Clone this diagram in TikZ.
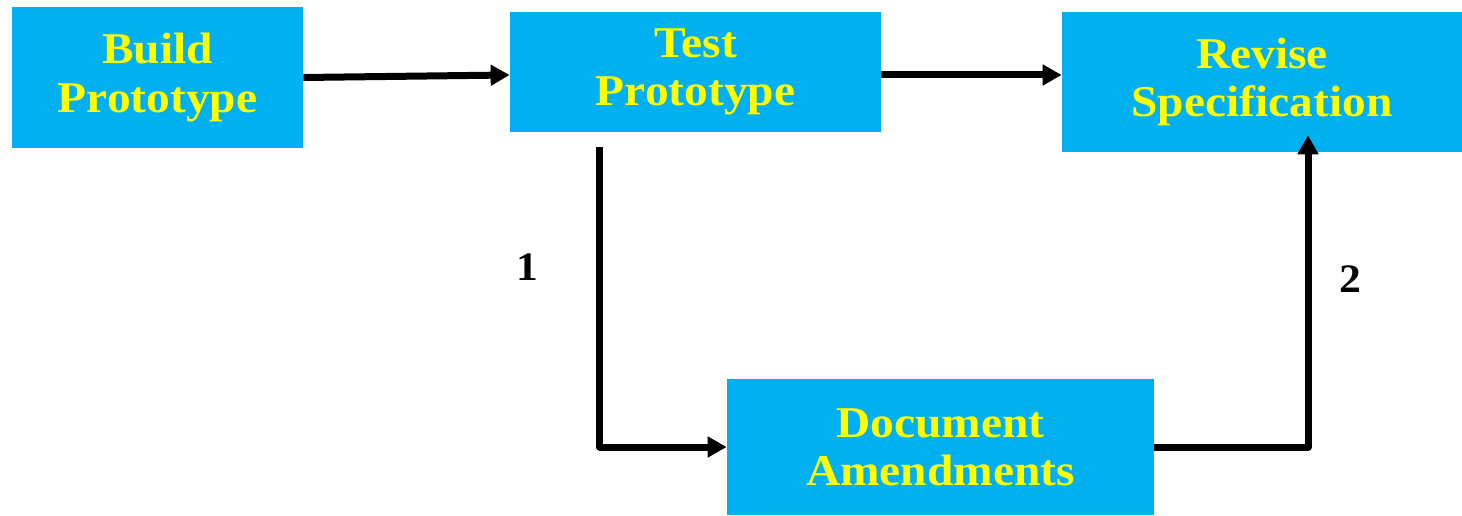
\documentclass[tikz,border=0pt]{standalone}
\usepackage{fontspec}
\setmainfont[FakeStretch=1.08]{Liberation Serif}
\usetikzlibrary{arrows.meta,positioning,calc}
\definecolor{stageblue}{RGB}{0,176,240}
\definecolor{stageyellow}{RGB}{255,255,0}
\tikzset{
  stagebox/.style={fill=stageblue, text=stageyellow, align=center, inner sep=0pt, font=\bfseries\fontsize{25}{27.5}\selectfont},
  stagearrow/.style={-{Triangle[length=0.38cm, width=0.4cm]}, line width=0.14cm, line join=round, draw=black},
  steplabel/.style={font=\bfseries\fontsize{23}{25}\selectfont},
}

\begin{document}
\begin{tikzpicture}
    \useasboundingbox (0,0) rectangle (29.24,10.3);
    \node[stagebox, minimum width=5.82cm, minimum height=2.82cm] (build) at (3.15,8.75) {Build\\Prototype};
    \node[stagebox, minimum width=7.42cm, minimum height=2.4cm] (test) at (13.91,8.86) {Test\\Prototype};
    \node[stagebox, minimum width=8.0cm, minimum height=2.8cm] (revise) at (25.24,8.66) {Revise\\Specification};
    \node[stagebox, minimum width=8.54cm, minimum height=2.72cm] (amend) at (18.81,1.36) {Document\\Amendments};
    % loose ends of the two bent arrows
    \coordinate[xshift=1.8cm, yshift=-0.3cm] (testout) at (test.south west);
    \coordinate[xshift=0.92cm, yshift=0.34cm] (revisein) at (revise.south);
    \draw[stagearrow] (build.east) -- ([yshift=-0.06cm]test.west);
    \draw[stagearrow] ([yshift=-0.06cm]test.east) -- ([yshift=-0.06cm]test.east -| revise.west);
    \draw[stagearrow] (testout) |- node[steplabel, pos=0.2, xshift=-1.44cm] (one) {1} (amend.west);
    \draw[stagearrow] (amend.east) -| node[steplabel, pos=0.77, xshift=0.84cm] (two) {2} (revisein);
\end{tikzpicture}
\end{document}
